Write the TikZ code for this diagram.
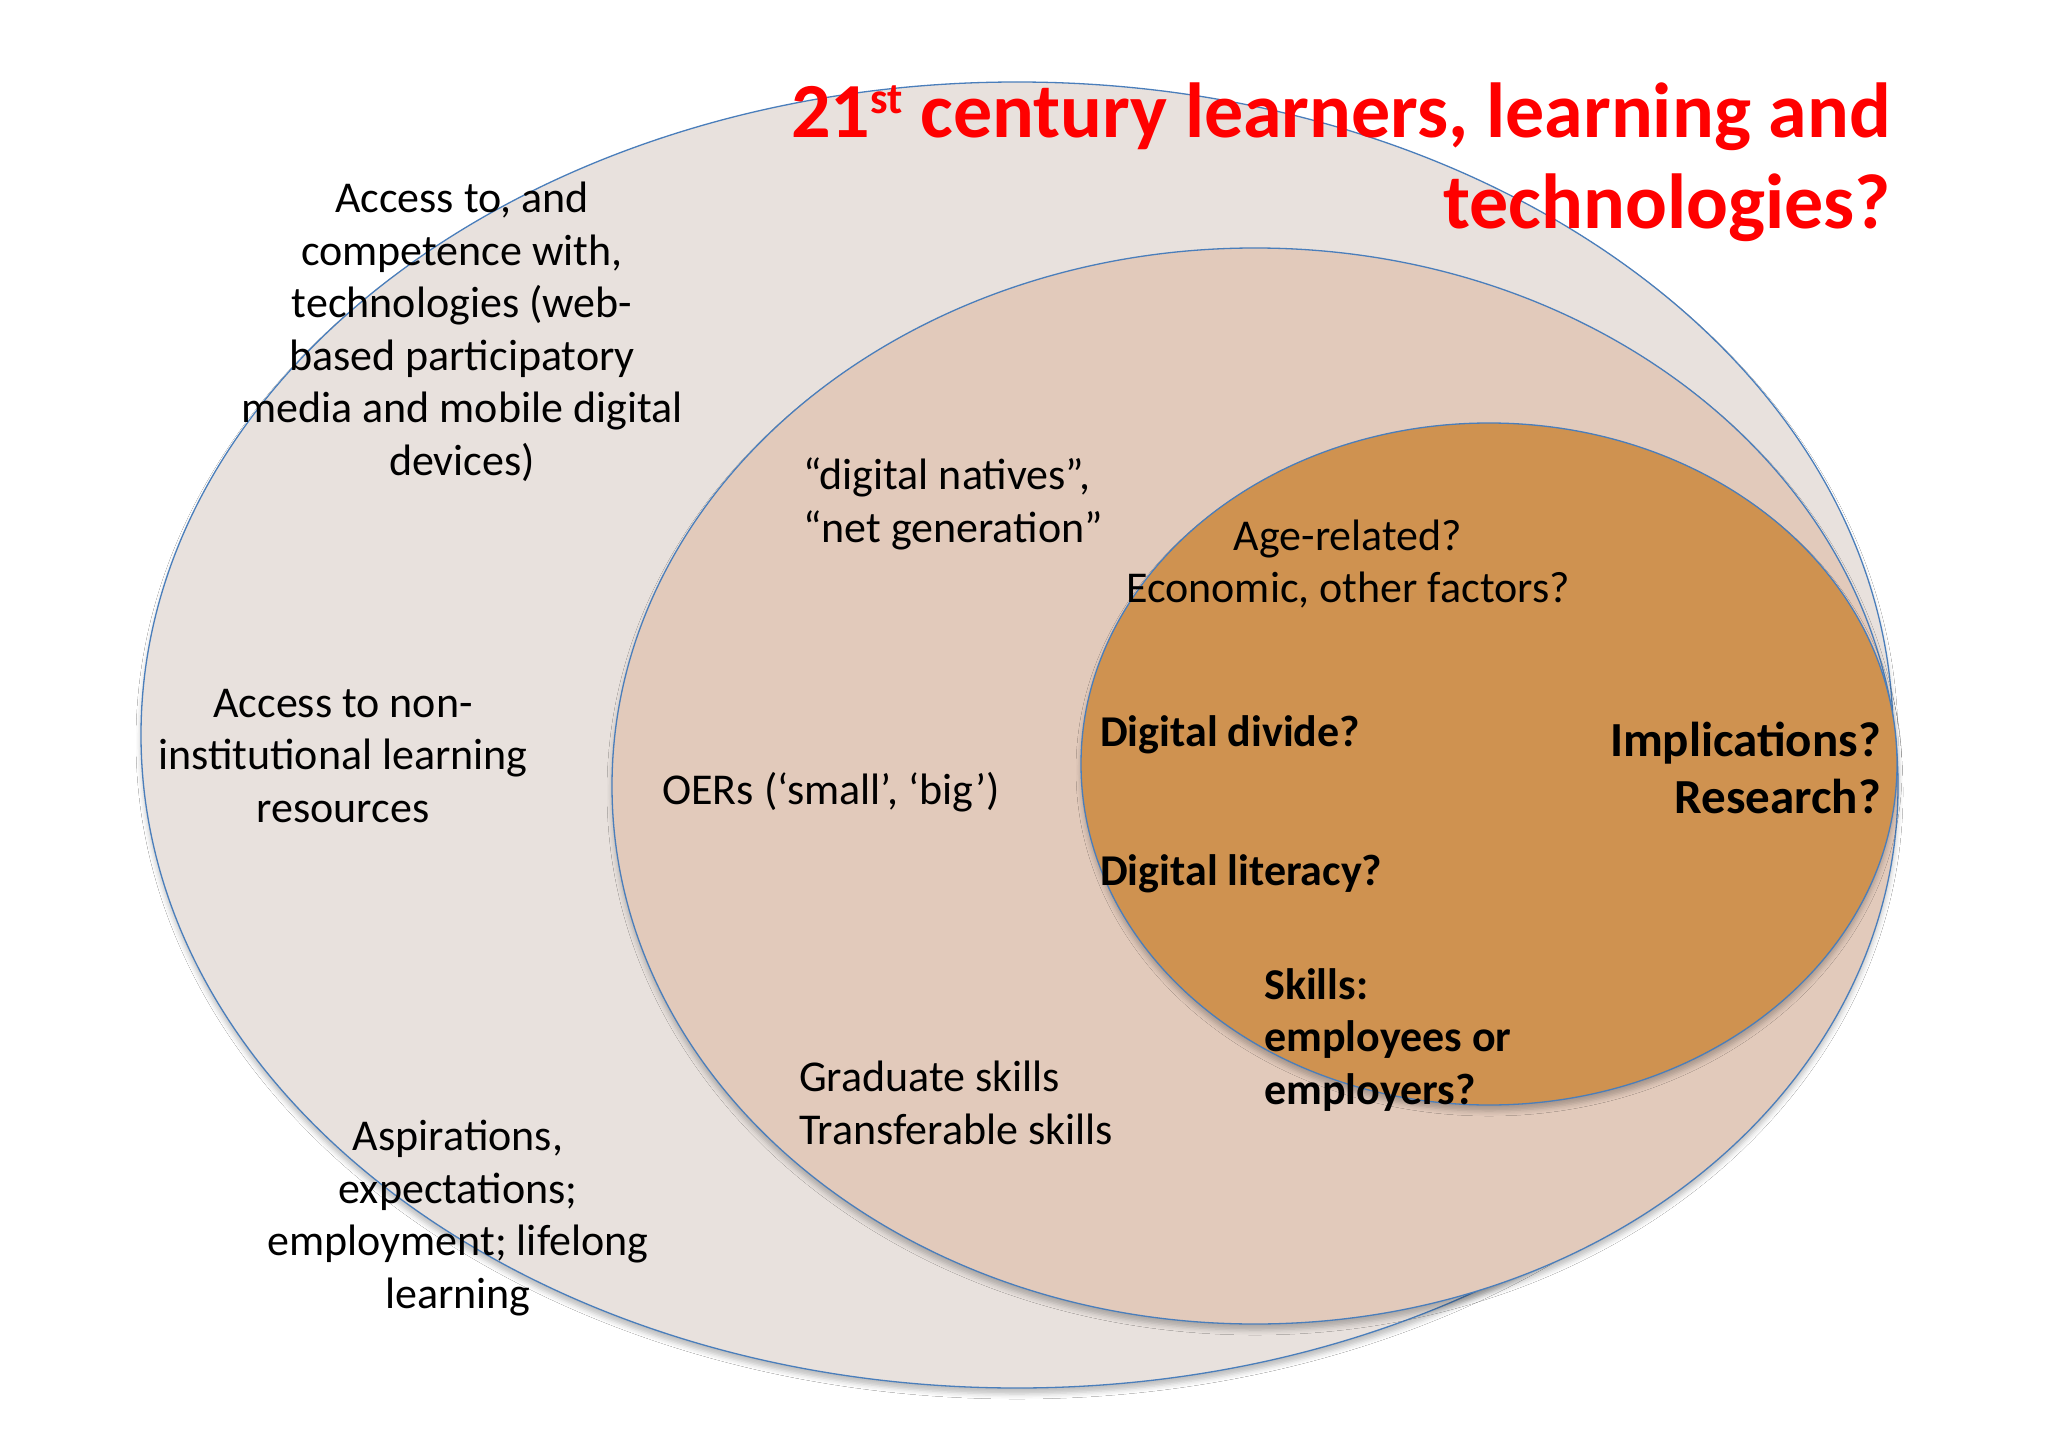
\documentclass[tikz,border=0pt]{standalone}
\usepackage{fontspec}
\setmainfont{Carlito}
\usetikzlibrary{shadows.blur}
\definecolor{outerfill}{RGB}{232,225,221}
\definecolor{midfill}{RGB}{226,202,187}
\definecolor{innerfill}{RGB}{207,146,80}
\definecolor{edgeblue}{RGB}{74,126,187}
\definecolor{titlered}{RGB}{255,0,0}
\tikzset{
  ring/.style={draw=edgeblue, line width=1.3pt,
    blur shadow={shadow xshift=0pt, shadow yshift=-6pt, shadow blur radius=5pt, shadow opacity=25}},
  txt/.style={inner sep=0pt, align=center, font=\fontsize{44}{52.5}\selectfont},
  btxt/.style={inner sep=0pt, font=\bfseries\fontsize{44}{52.5}\selectfont},
}
\begin{document}
\begin{tikzpicture}[x=1pt,y=-1pt]
\useasboundingbox (0,0) rectangle (2048,1447);
\fill[white] (0,0) rectangle (2048,1447);
% ellipses
\path[ring, fill=outerfill] (1017,735) ellipse [x radius=876pt, y radius=653pt];
\path[ring, fill=midfill] (1255,786) ellipse [x radius=643pt, y radius=538pt];
\path[ring, fill=innerfill] (1489,764) ellipse [x radius=408pt, y radius=341pt];
% title
\node[inner sep=0pt, anchor=east, align=right, text=titlered,
  font=\bfseries\fontsize{78}{91}\selectfont] (title) at (1891,162)
  {21\raisebox{24pt}{\fontsize{44}{44}\selectfont st} century learners, learning and\\technologies?};
% outer ring texts
\node[txt] (access) at (462,332) {Access to, and\\competence with,\\technologies (web-\\based participatory\\media and mobile digital\\devices)};
\node[txt] (noninst) at (343,756) {Access to non-\\institutional learning\\resources};
\node[txt] (aspir) at (458,1218) {Aspirations,\\expectations;\\employment; lifelong\\learning};
% middle ring texts
\node[txt, align=left] (natives) at (953,504) {“digital natives”,\\“net generation”};
\node[txt] (oers) at (831,792) {OERs (‘small’, ‘big’)};
\node[txt, align=left, anchor=west] (grad) at (799,1103) {Graduate skills\\Transferable skills};
% inner texts
\node[txt] (age) at (1348,564) {Age-related?\\Economic, other factors?};
\node[btxt, anchor=west] (divide) at (1100,735) {Digital divide?};
\node[btxt, anchor=west] (literacy) at (1100,874) {Digital literacy?};
\node[inner sep=0pt, anchor=east, align=right, font=\bfseries\fontsize{49}{57.5}\selectfont] (impl) at (1881,768) {Implications?\\Research?};
\node[btxt, anchor=west, align=left] (skills) at (1264,1040) {Skills:\\employees or\\employers?};
\end{tikzpicture}
\end{document}
